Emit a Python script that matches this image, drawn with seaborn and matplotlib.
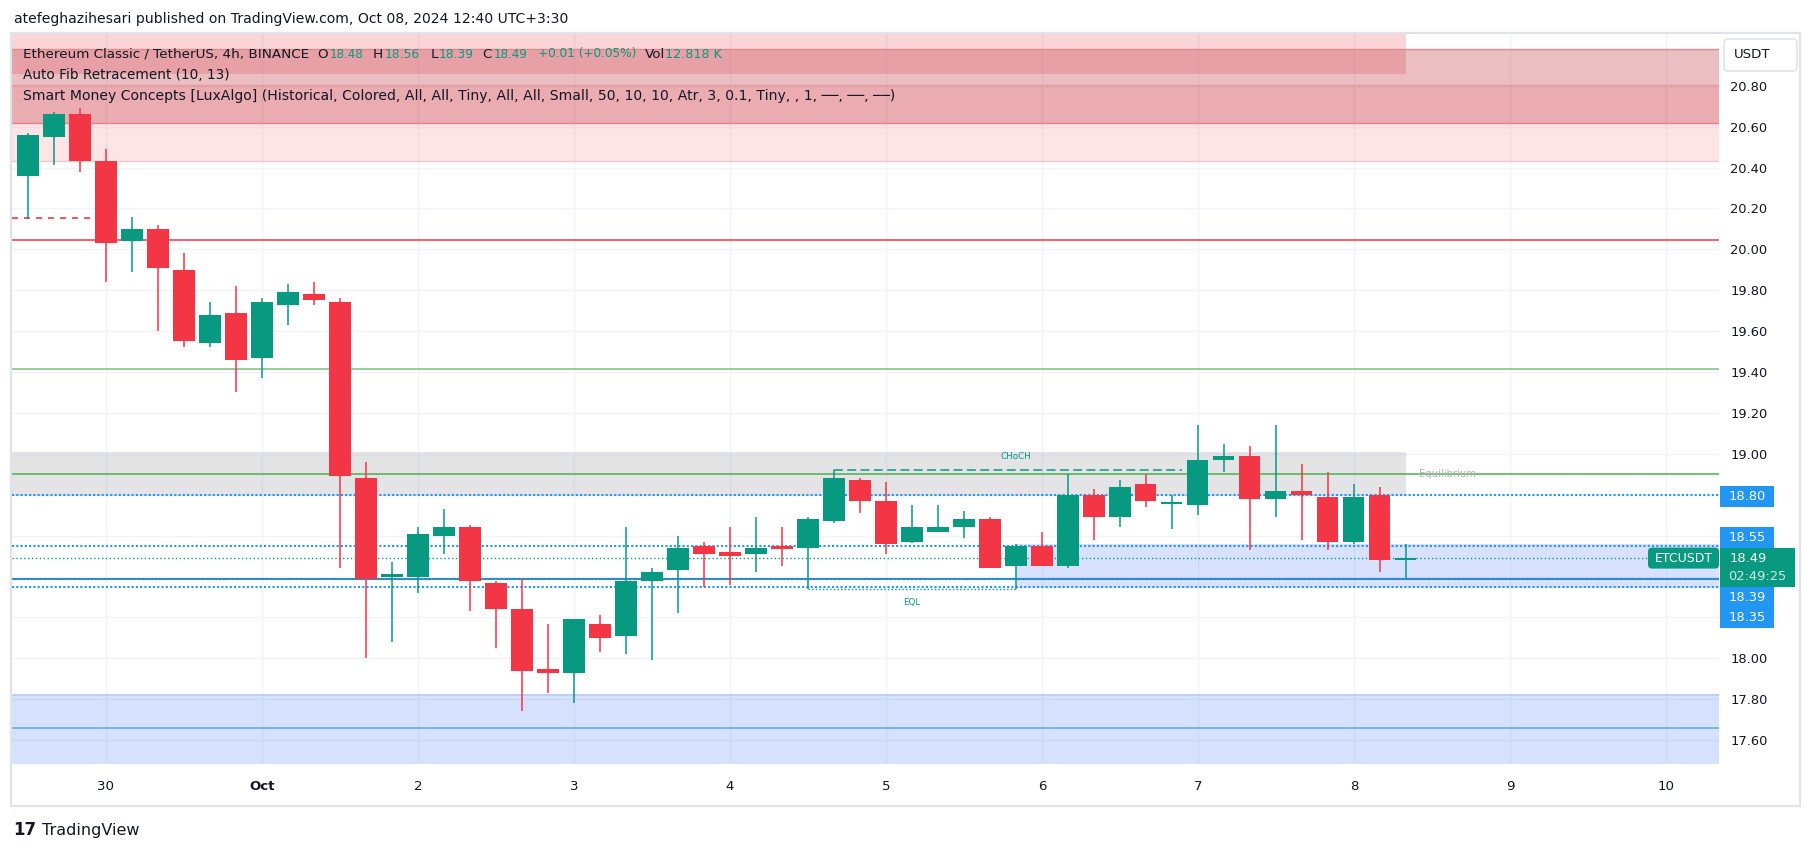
import numpy as np
import pandas as pd
import matplotlib
matplotlib.use("Agg")
import matplotlib.pyplot as plt
import matplotlib.transforms as mtransforms
from matplotlib.patches import Rectangle, FancyBboxPatch
import seaborn as sns

# ------------------------------------------------------------------ data
# ETC/USDT 4h bars, Binance, shown in UTC+3:30 (bars open at 03:30, 07:30, ...)
bar_times = pd.date_range("2024-09-29 15:30", "2024-10-08 11:30", freq="4h")
opens = [20.36, 20.55, 20.66, 20.43, 20.04, 20.10, 19.90, 19.54, 19.69, 19.47,
         19.73, 19.78, 19.74, 18.88, 18.40, 18.40, 18.60, 18.64, 18.37, 18.24,
         17.95, 17.93, 18.17, 18.11, 18.38, 18.43, 18.55, 18.52, 18.51, 18.55,
         18.54, 18.67, 18.87, 18.77, 18.57, 18.62, 18.64, 18.68, 18.45, 18.55,
         18.45, 18.80, 18.69, 18.85, 18.755, 18.75, 18.97, 18.99, 18.78, 18.82,
         18.79, 18.57, 18.80, 18.48]
highs = [20.57, 20.67, 20.69, 20.49, 20.16, 20.12, 19.98, 19.74, 19.82, 19.76,
         19.83, 19.84, 19.76, 18.96, 18.47, 18.64, 18.73, 18.65, 18.38, 18.39,
         18.17, 18.19, 18.21, 18.64, 18.44, 18.60, 18.57, 18.64, 18.69, 18.64,
         18.69, 18.92, 18.88, 18.86, 18.75, 18.75, 18.72, 18.69, 18.56, 18.62,
         18.90, 18.83, 18.87, 18.90, 18.80, 19.14, 19.05, 19.04, 19.14, 18.95,
         18.91, 18.85, 18.84, 18.56]
lows = [20.15, 20.41, 20.38, 19.84, 19.89, 19.60, 19.52, 19.52, 19.30, 19.37,
        19.63, 19.73, 18.44, 18.00, 18.08, 18.32, 18.51, 18.23, 18.05, 17.74,
        17.83, 17.78, 18.03, 18.02, 17.99, 18.22, 18.35, 18.36, 18.42, 18.45,
        18.34, 18.66, 18.71, 18.51, 18.565, 18.62, 18.59, 18.44, 18.34, 18.45,
        18.44, 18.58, 18.64, 18.74, 18.63, 18.70, 18.91, 18.53, 18.69, 18.58,
        18.53, 18.56, 18.42, 18.39]
closes = [20.56, 20.66, 20.43, 20.03, 20.10, 19.91, 19.55, 19.68, 19.46, 19.74,
          19.79, 19.75, 18.89, 18.39, 18.41, 18.61, 18.64, 18.38, 18.24, 17.94,
          17.93, 18.19, 18.10, 18.38, 18.42, 18.54, 18.51, 18.50, 18.54, 18.535,
          18.68, 18.88, 18.77, 18.56, 18.64, 18.64, 18.68, 18.44, 18.55, 18.45,
          18.80, 18.69, 18.84, 18.77, 18.76, 18.97, 18.99, 18.78, 18.82, 18.80,
          18.57, 18.79, 18.48, 18.49]

day_labels = ["30", "Oct", "2", "3", "4", "5", "6", "7", "8", "9", "10"]
day_starts = pd.date_range("2024-09-30 03:30", periods=11, freq="D")

price_ticks = [17.6, 17.8, 18.0, 18.2, 18.4, 18.6, 18.8, 19.0, 19.2, 19.4,
               19.6, 19.8, 20.0, 20.2, 20.4, 20.6, 20.8]
price_tick_labels = ["17.60", "17.80", "18.00", "", "", "", "", "19.00", "19.20",
                     "19.40", "19.60", "19.80", "20.00", "20.20", "20.40", "20.60", "20.80"]

# indicator levels / zones
supply_zone_top = (20.857, 21.20)      # ends at the last bar
supply_zone_a = (20.616, 20.98)
supply_zone_b = (20.433, 20.804)
swing_low_level = 20.152
fib_red_level = 20.044
fib_green_level = 19.413
equilibrium_zone = (18.795, 19.009)
equilibrium_level = 18.90
blue_levels = [18.80, 18.55, 18.35, 18.39]
demand_zone_near = (18.342, 18.559)
demand_zone_low = (17.30, 17.82)
demand_mid_level = 17.658
choch_level = 18.92
eql_level = 18.337
last_price = 18.49

# ------------------------------------------------------------------ style
sns.set_theme(style="white")
plt.rcParams["font.family"] = ["DejaVu Sans"]

UP, DOWN = "#089981", "#f23645"
TXT = "#131722"
BLUE = "#2196f3"

W, H = 1814, 851
fig = plt.figure(figsize=(W / 100, H / 100), dpi=100)
fig.patch.set_facecolor("white")
ax = fig.add_axes([12 / W, 1 - 763 / H, (1719 - 12) / W, (763 - 34) / H])

bar_step = pd.Timedelta("4h")
t0 = day_starts[0]
x = np.asarray((bar_times - t0) / bar_step, dtype=float)
tick_x = np.asarray((day_starts - t0) / bar_step, dtype=float)

xl = (x[0] - 0.615, tick_x[-1] + 2.04)
ax.set_xlim(*xl)
ax.set_ylim(17.488, 21.053)

for s in ax.spines.values():
    s.set_visible(False)
ax.set_axisbelow(True)
ax.grid(True, color="#f0f3fa", lw=1.0, zorder=0)

ax.set_xticks(tick_x)
ax.set_xticklabels(day_labels)
ax.yaxis.tick_right()
ax.set_yticks(price_ticks)
ax.set_yticklabels(price_tick_labels)
ax.tick_params(axis="x", length=0, pad=12.5, labelsize=9.6, labelcolor=TXT)
ax.tick_params(axis="y", length=0, pad=8, labelsize=9.4, labelcolor=TXT)
ax.get_xticklabels()[1].set_fontweight("bold")

x_last = x[-1]

# ---- zones
ax.fill_between([xl[0], x_last], *supply_zone_top, color="#e12d3c", alpha=0.2, lw=0, zorder=1)
ax.fill_between(list(xl), *supply_zone_b, color="#f23645", alpha=0.13, lw=0, zorder=1)
ax.fill_between(list(xl), *supply_zone_a, color="#c02a34", alpha=0.3, lw=0, zorder=1)
for lv, col in [(supply_zone_a[1], "#e08a90"), (supply_zone_a[0], "#e0838a"),
                (supply_zone_b[1], "#e59ca1"), (supply_zone_b[0], "#f4c9cc")]:
    ax.axhline(lv, color=col, lw=1.0, zorder=1.5)

ax.fill_between([xl[0], x_last], *equilibrium_zone, color="#787b86", alpha=0.2, lw=0, zorder=1)
ax.fill_between([x[38], xl[1]], *demand_zone_near, color="#2962ff", alpha=0.18, lw=0, zorder=1)
ax.fill_between(list(xl), *demand_zone_low, color="#2962ff", alpha=0.19, lw=0, zorder=1)
ax.axhline(demand_zone_low[1], color="#b3cdf7", lw=1.2, zorder=1.5)
ax.axhline(demand_mid_level, color="#64aef2", lw=1.2, zorder=1.5)

# ---- levels
ax.hlines(swing_low_level, xl[0], x[3] - 0.42, color=DOWN, lw=1.2,
          linestyles=[(0, (3.6, 3.6))], zorder=2)
ax.axhline(fib_red_level, color=DOWN, lw=1.1, zorder=2)
ax.axhline(fib_green_level, color="#81c784", lw=1.2, zorder=2)
ax.axhline(equilibrium_level, color="#4caf50", lw=1.1, zorder=2)
for lv in blue_levels:
    ax.axhline(lv, color=BLUE, lw=1.5, linestyle=(0, (1, 1.05)), zorder=2.2)
ax.axhline(blue_levels[3], color="#26798e", lw=1.3, zorder=2.1)
ax.hlines(last_price, xl[0], xl[1], color=UP, lw=1.0, linestyles=[(0, (1, 1.8))], zorder=2.1)

# ---- CHoCH / EQL structure lines (seaborn)
i_choch_from, i_choch_to = 31, 45
i_eql_from, i_eql_to = 30, 38
choch_df = pd.DataFrame({"x": [x[i_choch_from], x[i_choch_to] - 0.6],
                         "y": [choch_level, choch_level]})
eql_df = pd.DataFrame({"x": [x[i_eql_from], x[i_eql_to]], "y": [eql_level, eql_level]})
sns.lineplot(data=choch_df, x="x", y="y", ax=ax, color=UP, lw=1.1,
             linestyle=(0, (5.8, 2.9)), zorder=2.5)
sns.lineplot(data=eql_df, x="x", y="y", ax=ax, color=UP, lw=1.0,
             linestyle=(0, (1, 1.6)), zorder=2.5)
ax.set_xlabel("")
ax.set_ylabel("")
ax.text((x[i_choch_from] + x[i_choch_to]) / 2, choch_level, "CHoCH", color=UP,
        fontsize=6.3, ha="center", va="bottom", zorder=5,
        transform=ax.transData + mtransforms.ScaledTranslation(0, 9 / 100, fig.dpi_scale_trans))
ax.text((x[i_eql_from] + x[i_eql_to]) / 2, eql_level, "EQL", color=UP,
        fontsize=6.3, ha="center", va="top", zorder=5,
        transform=ax.transData + mtransforms.ScaledTranslation(0, -9 / 100, fig.dpi_scale_trans))
ax.text(x_last + 0.5, equilibrium_level, "Equilibrium", color="#b2b5be", fontsize=7.2,
        ha="left", va="center", zorder=5)

# ---- candles
o, h, l, c = map(np.asarray, (opens, highs, lows, closes))
up = c >= o
cols = np.where(up, UP, DOWN)
body_lo = np.minimum(o, c)
body_h = np.maximum(np.abs(c - o), 0.008)
ax.vlines(x, l, h, colors=cols, lw=1.1, zorder=3)
ax.bar(x, body_h, bottom=body_lo, width=0.81, color=cols, linewidth=0, zorder=4)

# ------------------------------------------------------------------ overlay texts
ident = mtransforms.IdentityTransform()
renderer = fig.canvas.get_renderer()


def fy(y_top):
    return H - y_top


def level_px(level):
    return H - ax.transData.transform((0, level))[1]


def box(x0, y0, x1, y1, fc, ec="none", rounded=False, lw=1.0, z=10):
    if rounded:
        p = FancyBboxPatch((x0, fy(y1)), x1 - x0, y1 - y0, boxstyle="round,pad=0,rounding_size=4",
                           fc=fc, ec=ec, lw=lw, transform=ident, zorder=z)
    else:
        p = Rectangle((x0, fy(y1)), x1 - x0, y1 - y0, fc=fc, ec=ec, lw=lw,
                      transform=ident, zorder=z)
    fig.add_artist(p)


def ftext(xp, yp, s, **kw):
    kw.setdefault("transform", ident)
    kw.setdefault("va", "center")
    return fig.text(xp, fy(yp), s, **kw)


def fit_text(xp, yp, s, target_w, base=10, **kw):
    t = ftext(xp, yp, s, fontsize=base, **kw)
    w = t.get_window_extent(renderer).width
    t.set_fontsize(base * target_w / w)
    return t


# price tags on the right axis
tags = [(blue_levels[0], "18.80", 2), (blue_levels[1], "18.55", -8.5),
        (blue_levels[3], "18.39", 18.5), (blue_levels[2], "18.35", 31)]
for lv, s, dy in tags:
    cy = level_px(lv) + dy
    box(1720, cy - 10.5, 1774, cy + 10.5, BLUE)
    ftext(1729, cy, s, color="white", fontsize=9.4, zorder=11)

cy = level_px(last_price)
box(1720, cy - 10, 1795, cy + 28.5, UP)
ftext(1730, cy, "18.49", color="white", fontsize=9.4, zorder=11)
ftext(1728, cy + 18, "02:49:25", color="#cdebe4", fontsize=9.4, zorder=11)
box(1648, cy - 10.5, 1719, cy + 10.5, UP, rounded=True)
ftext(1683.5, cy, "ETCUSDT", color="white", fontsize=9.0, ha="center", zorder=11)

# USDT currency box
box(1724, 39, 1797, 71, "white", ec="#e0e3eb", rounded=True, lw=1.2)
ftext(1752, 54.5, "USDT", color=TXT, fontsize=9.6, ha="center", zorder=11)

# chart frame
fig.add_artist(Rectangle((11, fy(806)), 1800 - 11, 806 - 33, fc="none", ec="#e0e3eb",
                         lw=1.6, transform=ident, zorder=20))

# header
fit_text(14, 19, "atefeghazihesari published on TradingView.com, Oct 08, 2024 12:40 UTC+3:30",
         555, color=TXT)

# legend line 1: each piece fitted to its column (start, end in px)
title = fit_text(23, 54, "Ethereum Classic / TetherUS, 4h, BINANCE", 284, color=TXT, zorder=12)
fs1 = title.get_fontsize()
letter_parts = [("O", 317), ("H", 373), ("L", 431), ("C", 482), ("Vol", 645)]
for s, xp in letter_parts:
    ftext(xp, 54, s, color=TXT, fontsize=fs1, zorder=12)
value_parts = [("18.48", 330, 364), ("18.56", 385, 420), ("18.39", 439, 474),
               ("18.49", 494, 528), ("+0.01 (+0.05%)", 538, 637), ("12.818 K", 665, 722)]
for s, x0p, x1p in value_parts:
    t = fit_text(x0p, 54, s, x1p - x0p, color=UP, zorder=12)
    t.set_fontsize(min(t.get_fontsize(), fs1))

fit_text(23, 75, "Auto Fib Retracement (10, 13)", 205, color=TXT, zorder=12)
fit_text(23, 96, "Smart Money Concepts [LuxAlgo] (Historical, Colored, All, All, Tiny, All, All, "
                 "Small, 50, 10, 10, Atr, 3, 0.1, Tiny, , 1, \u2500\u2500, \u2500\u2500, \u2500\u2500)",
         871, color=TXT, zorder=12)

# footer logo
ftext(13, 830, "17", color=TXT, fontsize=12, fontweight="heavy")
ftext(42, 830, "TradingView", color=TXT, fontsize=11.5)

fig.savefig("out.png", dpi=100, facecolor="white")
